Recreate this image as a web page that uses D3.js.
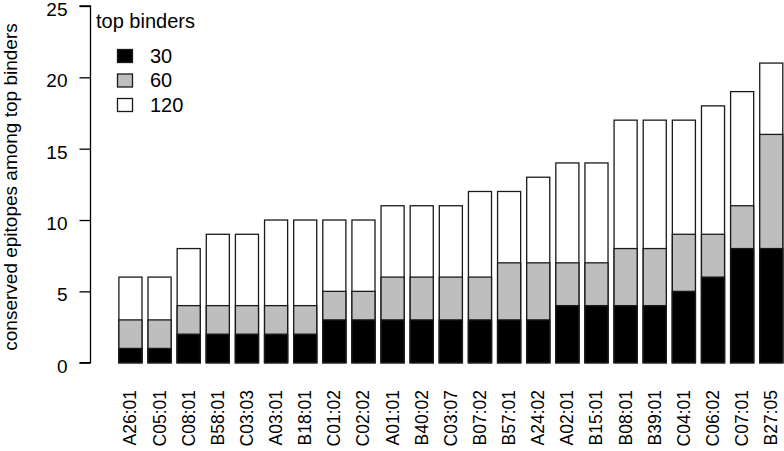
<!DOCTYPE html>
<html><head><meta charset="utf-8">
<script src="https://cdn.jsdelivr.net/npm/d3@7"></script>
<style>body{margin:0;background:#fff}svg{display:block}text{font-family:"Liberation Sans",Arial,Helvetica,sans-serif;fill:#000}</style>
</head><body><svg id="c" width="784" height="451"></svg>
<script>
const categories = ["A26:01","C05:01","C08:01","B58:01","C03:03","A03:01","B18:01","C01:02","C02:02","A01:01","B40:02","C03:07","B07:02","B57:01","A24:02","A02:01","B15:01","B08:01","B39:01","C04:01","C06:02","C07:01","B27:05"];
const top30  = [1,1,2,2,2,2,2,3,3,3,3,3,3,3,3,4,4,4,4,5,6,8,8];
const top60  = [3,3,4,4,4,4,4,5,5,6,6,6,6,7,7,7,7,8,8,9,9,11,16];
const top120 = [6,6,8,9,9,10,10,10,10,11,11,11,12,12,13,14,14,17,17,17,18,19,21];
const yTicks = [0,5,10,15,20,25];
const seriesNames = ["30","60","120"];
const seriesColors = ["#000000","#bebebe","#ffffff"];

const svg = d3.select("#c");
const x = d3.scaleBand().domain(categories).range([118.3, 783.4]).paddingInner(1/6).paddingOuter(0);
const y = d3.scaleLinear().domain([0,25]).range([362.7, 6]);

// bars: draw 120 (white), then 60 (gray), then 30 (black), overlapping like R barplot
const layers = [top120, top60, top30];
const layerColors = ["#ffffff","#bebebe","#000000"];
layers.forEach((vals, li) => {
  svg.append("g").selectAll("rect").data(categories).join("rect")
    .attr("x", d => x(d)+0.6)
    .attr("width", x.bandwidth()-1.2)
    .attr("y", (d,i) => y(vals[i]))
    .attr("height", (d,i) => y(0)-y(vals[i]))
    .attr("fill", layerColors[li])
    .attr("stroke", "#1a1a1a")
    .attr("stroke-width", 1.3);
});

// y axis
const ya = svg.append("g").attr("transform","translate(90.5,0)")
  .call(d3.axisLeft(y).tickValues(yTicks).tickSize(11).tickPadding(12));
ya.select(".domain").attr("d", `M-11,${y(0)}H0V${y(25)}H-11`).attr("stroke","#000").attr("stroke-width",1.3);
ya.selectAll(".tick line").attr("stroke","#000").attr("stroke-width",1.3);
ya.selectAll(".tick text").style("font-size","19px").attr("dy","0.5em").attr("font-family",null);

// x labels rotated
svg.append("g").selectAll("text").data(categories).join("text")
  .attr("transform", d => `translate(${x(d)+x.bandwidth()/2+6},390) rotate(-90)`)
  .attr("text-anchor","end")
  .style("font-size","17.5px")
  .text(d => d);

// y title
svg.append("text")
  .attr("transform","translate(17,187) rotate(-90)")
  .attr("text-anchor","middle")
  .style("font-size","19px")
  .text("conserved epitopes among top binders");

// legend
svg.append("text").attr("x",96).attr("y",28).style("font-size","20px").text("top binders");
const lg = svg.append("g").selectAll("g").data(seriesNames).join("g")
  .attr("transform",(d,i)=>`translate(117,${49+i*24.5})`);
lg.append("rect").attr("x",0.5).attr("y",0.5).attr("width",15).attr("height",13)
  .attr("fill",(d,i)=>seriesColors[i]).attr("stroke","#1a1a1a").attr("stroke-width",1.3);
lg.append("text").attr("x",33).attr("y",13.5).style("font-size","20px").text(d=>d);
</script></body></html>
